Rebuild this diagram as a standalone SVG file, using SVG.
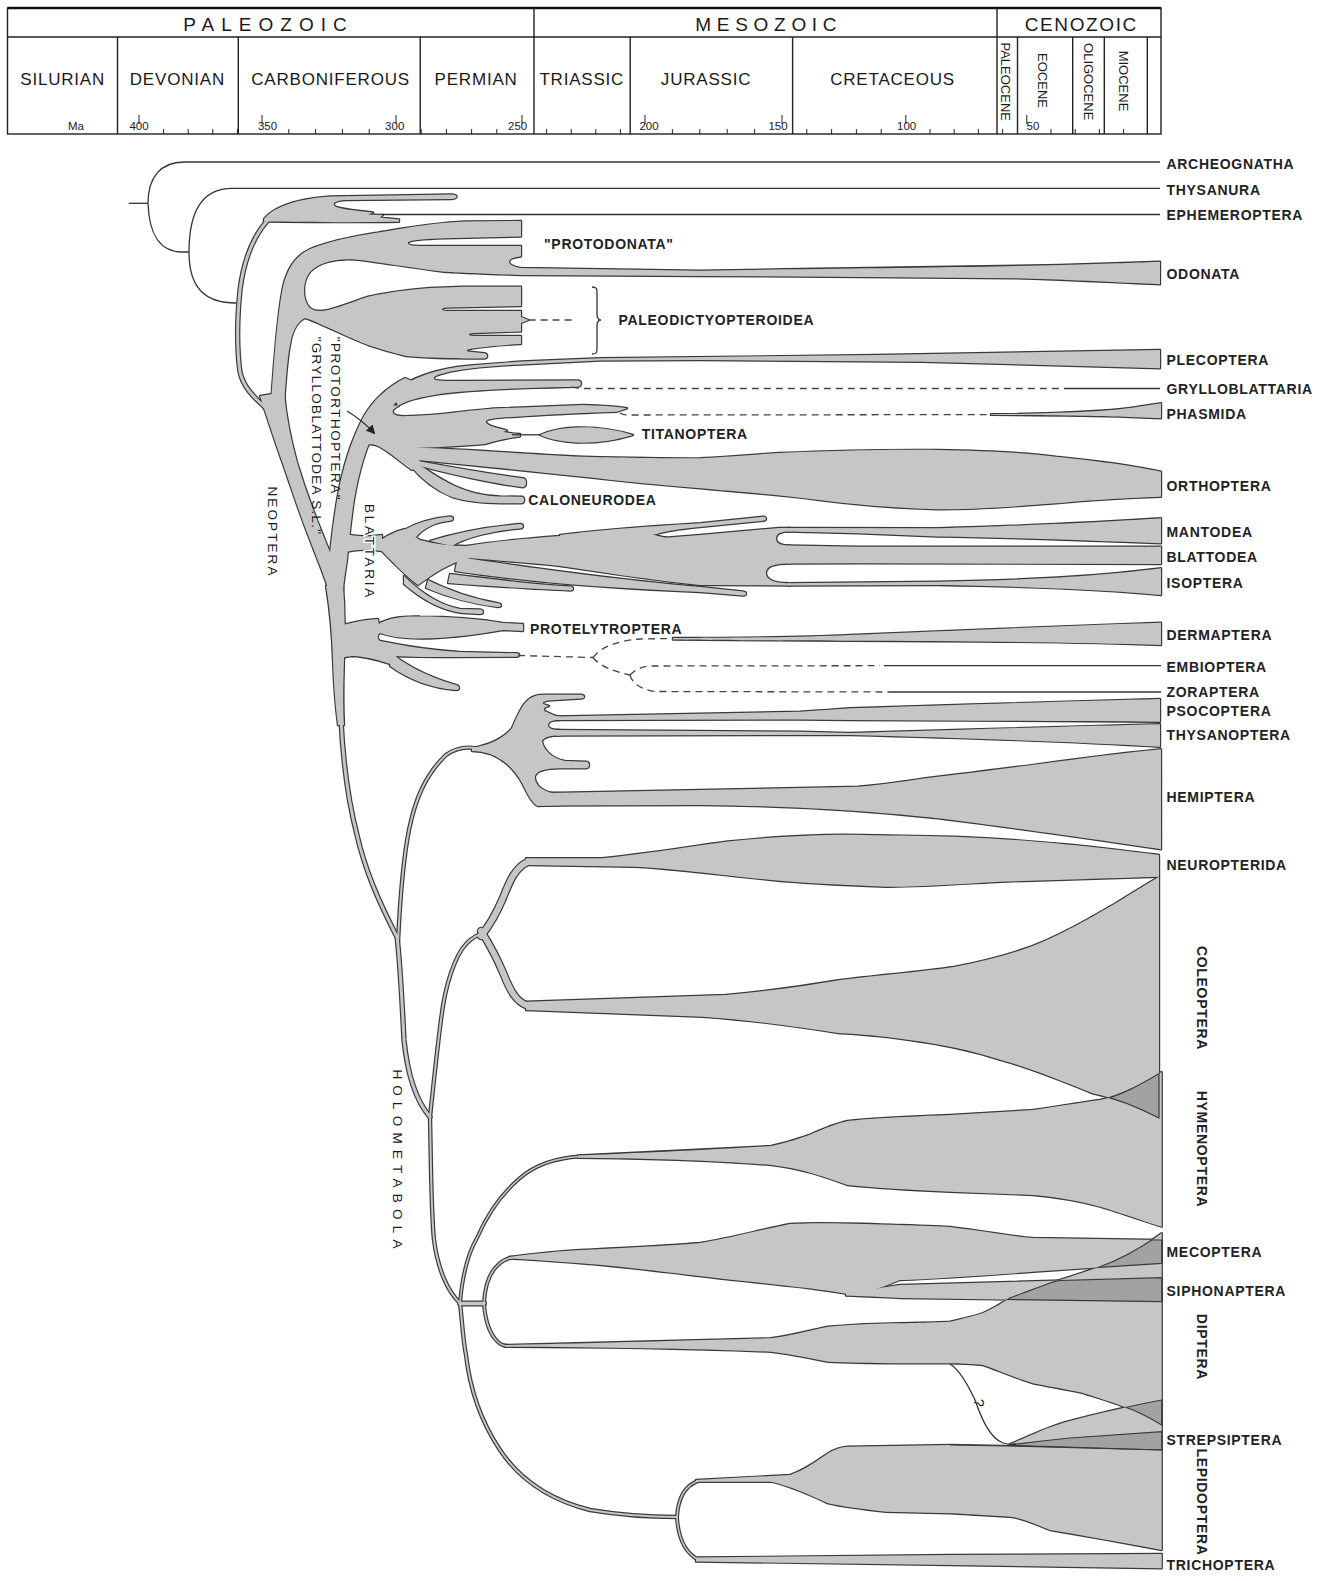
<svg xmlns="http://www.w3.org/2000/svg" xmlns:xlink="http://www.w3.org/1999/xlink" width="1321" height="1581" viewBox="0 0 1321 1581">
<style>
text{font-family:"Liberation Sans",Arial,sans-serif;fill:#1a1a1a}
.era{font-size:19px}
.per{font-size:17px;letter-spacing:0.8px}
.ep{font-size:13px}
.num{font-size:11.5px}
.lab{font-size:14px;letter-spacing:0.7px;font-weight:bold;fill:#222}
.grp{font-size:13.5px}
.grid{stroke:#222;stroke-width:1.4;fill:none}
.tick{stroke:#222;stroke-width:1;fill:none}
.ln{fill:none;stroke:#333;stroke-width:1.3}
.dash{fill:none;stroke:#444;stroke-width:1.3;stroke-dasharray:7 5}
.edge{fill:none;stroke:#3a3a3a;stroke-width:1.2}
.dark{fill:#a2a2a2}
</style>
<defs>
<marker id="arr" viewBox="0 0 10 10" refX="8" refY="5" markerWidth="7" markerHeight="7" orient="auto"><path d="M0,0 L10,5 L0,10 Z" fill="#222"/></marker>
<path id="eph" d="M264,219 C272,209 292,199 330,196.5 L452,194.5 C458,195 458,198.5 452,199 L346,200 C334,200.5 331,204 336,207 C345,210 362,211 373,212.5 L368,214.5 L383,215 L380,217.5 L399,219.5 L399,221.8 C350,222.5 300,222 264,221.5 Z"/>
<path id="neob" d="M260,396 C268,420 276,445 284,467 C292,490 300,515 310,540 C316,556 322,570 328,588 L343,590 C337,568 329,550 321,530 C311,505 303,482 297,462 C291,440 286,415 284,392 Z"/>
<path id="palaeo" d="M271,404 C274,360 277,320 282,292 C286,268 297,255 310,249 C330,241 350,237 375,233 C400,229 430,223 465,221.5 L521,221 L521,236.5 L445,238.3 C425,239 410,240 408,242.5 C407,245 412,246 420,246 L521,246 L521,256.5 C513,257 509,259.5 509,262 C509,264.5 514,267 521,268 L700,270.7 L784,269.3 C900,268 1000,266.5 1060,265 C1110,263.5 1140,262.5 1160,261.7 L1160,284.3 C1120,282.5 1050,279 1014,278.3 L830,276.7 L700,276 L521,275 C480,273.5 455,272.5 444,271.7 C410,268 380,262 355,259.5 C335,258 318,263 310,272 C302,282 302,300 310,308 C320,316 340,306 368,296.7 C390,292 405,290 430,288 L463,286.7 L521,286.7 L521,306 L447,307.5 C440,308 440,310.5 447,311 L521,311 L521,317 L528.6,320 L521,323 L521,331.5 L474,333 C467,333.5 467,335.5 474,336 L521,336 L521,344 C500,345 482,347 472,348.5 C465,349.5 465,351.5 472,352 L484.6,353.3 C488,354 488,358 484.6,358.5 C450,358.5 420,357.5 406,356 C390,352 380,349 368,345 C350,338 340,333 329.6,328.3 C320,324 312,320 305,318 C297,322 292,332 290,345 C287,360 286,380 284,404 Z"/>
<path id="pbb" d="M327,588 C329,560 332,530 337,500 C342,470 351,440 364,416 C374,399 389,386 405,378 L422,385 C402,395 387,409 377,425 C367,445 359,470 354,500 C351,520 349,540 347,560 C345,575 343,585 343,592 Z"/>
<path id="plec" d="M392,392 C412,377 440,368 470,365.5 L521,361.5 L600,358.3 L876,355 L1160,350 L1160,368.3 L922,361.7 L700,360 L600,360.5 L521,364.5 C490,366 460,369 445,373 C436,375 433,377 434,379 C436,381 445,381 460,381 L578,380.5 C582,381 582,386 578,386.8 L567,387 C520,388 470,390 440,394 C420,397 405,401 398,406 Z"/>
<path id="pob" d="M366,445 L370,412 C378,406 390,404 399,406 C393,408.5 392,411 393,413 C395,416 400,416.5 410,416 C425,415.5 440,414.5 455,412.5 C470,410.5 482,409.5 493,408.5 L583,405 C600,405.5 615,406 627,408.3 L617,411.7 C580,413 545,414.5 517,416.7 C500,417.5 488,418.5 486,421 C485,424 491,426 498,428 L507,430.5 L503,432 L513,433.5 L520,434 L520,436.5 C508,438 495,441 485,444 C465,446 440,447 418,447.8 L420,466 L412,470 C400,462 390,452 378,446 C374,444 370,444 366,445 Z"/>
<path id="tit" d="M540,435 C555,428 590,422 633,435 C590,448 555,442 540,435 Z"/>
<path id="orth" d="M415,447.5 C480,450 540,455 583,456.7 C640,458 680,458.5 700,458.3 C740,456 760,454 779,453 C850,450 900,449.5 937.6,450 C990,451 1030,453 1056,456.7 C1100,461 1140,467 1161,471.7 L1161,496.7 C1120,498 1080,501 1056,503.3 C1010,507 970,509.5 937.6,509.3 C890,508 850,504 818.8,500 C770,494 730,491 700,488.3 C660,485 620,481 583,476.7 C520,470 470,465 418,460 Z"/>
<path id="cfa" d="M418,461 C450,467 490,474 523,478.3 C527,479 527,486.5 523,487.3 C490,483 455,475 420,466 Z"/>
<path id="cfb" d="M410,465 C420,478 435,490 452,497 C465,501 480,503 500,503.3 L521.7,503.3 C525,503 525,496.5 521.7,496.7 L500,496.5 C485,496 470,493 455,486 C440,479 430,472 420,465 Z"/>
<path id="bstem" d="M343,533 C355,537 368,537 382,535 L382,551 C368,549 355,549 343,553 Z"/>
<path id="bbody" d="M376,543 C386,536 396,531 405,529 C410,532 414,536 420,540 C435,544 450,546 466,546 C490,542 520,539 560,536 C600,533 630,532 650,533 C655,535 660,537.5 668,537.5 L700,535 L779,528 L790,528 L790,531.5 C780,531.5 776,534 776,538.5 C776,543 780,545.5 790,545.5 L790,563.5 C772,563.5 766,567 766,573 C766,579 772,583 790,583.3 L790,585.5 L700,585 C650,580 600,572 560,566 C520,562 490,560 470,558 C450,562 432,575 418,585 C405,575 390,560 376,545 Z"/>
<path id="bf1" d="M402,531 C416,523 432,518 450,516.5 C454,516.5 454,520.5 450,520.8 C436,522 424,528 416,537 Z"/>
<path id="bf2" d="M430,541 C455,533 485,527 520,524 C524,524 524,528.5 520,528.5 C490,531 465,538 452,546 Z"/>
<path id="bf3" d="M560,535 C600,530 640,527 700,523.3 L763,516.7 C767,516.4 767,520.4 763,520.8 L700,527 C680,529 665,531 657,534 C645,536 600,537 560,538 Z"/>
<path id="bfa" d="M404,576 C418,590 436,604 460,609 L480,609.5 C484,610 484,614 480,614 L462,613 C440,610 420,598 404,584 Z"/>
<path id="bfb" d="M428,580 C448,590 470,598 498,603.3 C502,604 502,607 498,607 C472,604 450,598 426,588 Z"/>
<path id="bfc" d="M450,574 C490,579 530,584 570,586.5 C574,587 574,590.5 570,590.5 C530,589 490,586 448,583 Z"/>
<path id="bfd" d="M458,557 C520,566 600,578 700,587 L743,591.5 C747,592 747,595.5 743,595.5 L700,592 C600,588 520,581 455,571 Z"/>
<path id="mant" d="M788,528 L937.6,528.3 C1050,525 1120,521 1161,518.3 L1161,543.3 C1080,540 1000,537.5 937.6,536.5 L858,533.3 L788,531.5 Z"/>
<path id="blat" d="M788,545.5 L858,546.7 L1161,546.7 L1161,564 L858,563.3 L788,563.5 Z"/>
<path id="isop" d="M788,583.3 L937.6,581.7 C1040,580 1110,575 1161,568.3 L1161,595 C1100,589 1000,586 937.6,585 L788,585.5 Z"/>
<path id="bbm" d="M326,586 C330,610 332,630 333,660 C334,690 336,710 338,725 L344,725 C343,705 343,690 344,660 C345,635 345,610 343,586 Z"/>
<path id="prn" d="M334,628 C345,624 360,620 378,619 L380,633 C377,635 377,639 380,641 L392,645 L395,655 C400,662 405,668 412,672 C395,665 375,658 355,656 C346,656 340,658 336,662 Z"/>
<path id="prs" d="M374,627 C385,618 400,616 420,616.5 C450,616.5 480,619 503,623 L523,624 L523,631 L503,630 C480,634 450,638.5 420,638.5 C400,638.5 388,636 380,633 Z"/>
<path id="prm" d="M380,641 C405,646 430,650 460,652 L516.7,653.3 C520,653.5 520,656.5 516.7,656.8 L460,657 C430,657 410,657 394,656 Z"/>
<path id="prl" d="M392,654 C405,664 425,676 456,685 C460,686 460,690 456,690 C430,688 408,679 390,666 Z"/>
<path id="derm" d="M673,638 C700,638 800,637.5 850,635 C950,631 1080,625 1161,622.7 L1161,645 C1080,642 950,641 850,640.7 C800,640.5 700,640 673,639.5 Z"/>
<path id="phas" d="M991,414.3 C1050,413.5 1100,412 1130,408 L1161,403.3 L1161,418.3 L1130,417 C1100,416 1050,415.2 991,414.9 Z"/>
<path id="parb" d="M472,748 C488,745 502,740 512,728 C518,715 523,700 535,696 C538,695 541,694.8 545,694.8 L581,694.8 C585,695 585,698.5 581,698.5 L548,700.5 C542,701.5 541,704 546,705 L549,706 C543,707.5 542,710.5 547,712 C550,713.5 553,715 558,716.5 L560,716.5 L560,720 C552,720 548,722 548,725 C548,728 552,730 560,730 L560,735.5 C550,735.5 544,737 542,741 C543,748 550,758 565,761 L586,761.7 C590,762 590,768 586,768.3 L560,768.3 C545,768.5 537,771 535,776 C534,783 540,790 552,793 L560,793 L560,805.3 L537.6,806 C532,803 528,795 522,783 C515,770 505,760 490,754 C484,752 478,751 472,751 Z"/>
<path id="psoc" d="M556,716.5 L800,711.7 C820,710.5 835,709.5 850,708.3 C950,705 1080,701 1160,699 L1160,721.7 C1050,721 950,720.5 850,720 L800,719.5 L556,720 Z"/>
<path id="thys" d="M556,730 L800,731.7 L850,733 C950,730 1080,726 1160,724.3 L1160,746.7 C1080,742 950,737.5 850,735 L800,735 L556,735.5 Z"/>
<path id="hem" d="M548,793 L700,790 L858,786.7 C890,784 910,780 937.6,776.7 C1000,770 1100,755 1161,749.3 L1161,849.3 C1100,840 1000,826 937.6,818.3 C880,812 800,806 700,805 L540,805.5 Z"/>
<path id="neu" d="M526,858.3 L601.5,858.3 C660,852 700,845 725.4,841.7 C780,836 830,834 863,835 C900,835.5 930,836 955,836.7 C1040,840 1110,849 1159,855 L1159,876.7 C1100,878.5 1040,880.5 1001,881.7 C960,884 920,887 886,886.7 C840,885 800,883 771,880 C720,875 670,868 633.6,866.7 L526,865 Z"/>
<path id="col" d="M526,1001.7 L725.4,995 C780,990 810,985 840,980 C880,975 920,972 955,966.7 C990,960 1020,952 1046.7,940 C1080,925 1100,912 1115.6,903.3 C1135,891 1150,882 1159,876.7 L1159,1118 C1140,1108 1115,1098 1092.6,1093.3 C1060,1080 1030,1068 1001,1060 C970,1050 940,1044 909,1040 C880,1036 860,1034 840,1033.3 C800,1027 750,1020 702.5,1016.7 L526,1010 Z"/>
<path id="hym" d="M578,1155.5 C650,1152.5 720,1149 771,1146 C790,1142 800,1138 809,1135 C825,1128 838,1123 847.5,1121 C870,1118.5 890,1117.5 950,1115 L1033,1110 C1060,1106 1085,1102 1100,1100 C1120,1096 1140,1085 1161.7,1072 L1161.7,1226.7 C1140,1220 1115,1211 1100,1206.7 C1080,1201 1055,1197 1033,1195 L950,1191.7 C910,1190 875,1188 847.5,1185 C825,1177 800,1168 771,1165 C720,1161 660,1159 618,1158.3 L578,1157.8 Z"/>
<path id="mec" d="M509,1257 C540,1253 560,1251 580,1250 C640,1247 680,1245 700,1243 C730,1238 760,1230 790,1224 C820,1222 870,1224 900,1225 C930,1226 945,1226.5 950,1227 C990,1232 1010,1236 1033,1238 L1161.7,1240 L1161.7,1263.3 L1033,1271.7 C980,1276 930,1279 900,1280 C890,1284 880,1288 870,1291 L848,1294 C830,1291 820,1290 809,1288.3 C780,1285 755,1282 733,1280 C680,1274 620,1266 580,1263.3 C550,1261 525,1259 509,1258.5 Z"/>
<path id="sip" d="M846,1293 C870,1290 885,1287 900,1285 L1161.7,1277.7 L1161.7,1301.7 L900,1298 C880,1297 862,1296 846,1295.5 Z"/>
<path id="dip" d="M505,1345 C600,1343 700,1340 771,1338.3 C800,1334 815,1329 828,1326.7 C860,1324 880,1323.5 900,1323.3 C930,1322.5 945,1322 950,1321.7 C965,1318 975,1316 983,1313 C995,1308 1003,1302 1010,1298 C1025,1292 1040,1287 1050,1283 C1070,1277 1090,1270 1100,1266.7 C1125,1258 1145,1245 1161.7,1233.3 L1161.7,1425 C1150,1418 1140,1413 1133,1410 C1115,1403 1095,1397 1083,1393 C1065,1389 1045,1386 1033,1383.3 C1010,1376 995,1369 983,1365 C970,1364 960,1363.5 950,1363.3 L900,1363.3 C870,1363 845,1362.5 828,1361.7 C810,1358 790,1354 771,1351.7 C700,1349 600,1347 505,1346.8 Z"/>
<path id="stw" d="M1010,1444 C1030,1436 1045,1428 1066.7,1421.7 C1100,1413 1135,1405 1161.7,1400 L1161.7,1450 C1100,1448 1050,1446 1010,1445 Z"/>
<path id="lep" d="M696,1480 C730,1478 760,1476.5 790,1475 C805,1470 818,1460 828,1453.3 C835,1449 842,1447 847.5,1446.7 L950,1445 C1020,1446 1100,1448 1161.7,1450 L1161.7,1550 C1120,1542 1080,1535 1050,1530 C1035,1524 1022,1518 1010,1516.7 C980,1515 965,1514 950,1513.3 L886,1511.7 C860,1509 840,1506 828,1503.3 C808,1494 790,1486 771,1481.7 L696,1481.8 Z"/>
<path id="tri" d="M696,1557.5 L950,1555 L1161.7,1554 L1161.7,1568.3 L950,1565 L696,1561.5 Z"/>
<path id="b-eph" fill="none" d="M267,221 C254,236 244,258 240,290 C237,320 237,350 240,372 C243,386 252,396 268,410"/>
<path id="b-lb" fill="none" d="M341,720 C343,760 348,800 357,835 C365,870 378,900 397,937 C400,960 402,1000 404,1040 C408,1080 418,1103 430,1117"/>
<path id="b-para" fill="none" d="M398,942 C400,900 403,860 409,830 C415,800 425,775 446,755 C456,748 465,746 477,748.5"/>
<path id="b-nc" fill="none" d="M430,1117 C434,1080 437,1050 441,1020 C445,985 455,955 467,943 C472,938 477,935 483,933"/>
<path id="b-main" fill="none" d="M430,1117 C431,1160 431,1210 434,1240 C438,1270 448,1292 460,1303 C462,1320 463,1340 466,1355 C470,1390 480,1420 500,1450 C520,1480 550,1500 590,1510 C620,1515 650,1517 677,1517"/>
<path id="b-hym" fill="none" d="M460,1303 C462,1280 467,1255 477,1238 C487,1215 500,1195 520,1178 C535,1165 555,1158 580,1156.5"/>
<path id="b-conn" fill="none" d="M460,1303.5 L484,1303.5"/>
<path id="b-mec" fill="none" d="M484,1303 C485,1285 490,1272 498,1265 C503,1260 507,1258.5 512,1257.8"/>
<path id="b-dip" fill="none" d="M484,1303 C485,1320 490,1335 498,1342 C501,1345 504,1345.8 508,1346"/>
<path id="b-lep" fill="none" d="M677,1517 C678,1500 684,1486 698,1481"/>
<path id="b-tri" fill="none" d="M677,1517 C678,1535 684,1552 698,1559.5"/>
<path id="b-neu" fill="none" d="M481,936 C490,925 497,912 503,898 C510,880 515,868 528,861.7"/>
<path id="b-col" fill="none" d="M481,931 C490,945 497,958 504,975 C510,990 516,1002 528,1005.8"/>
<clipPath id="cl-hym"><use xlink:href="#hym"/></clipPath>
<clipPath id="cl-col"><use xlink:href="#col"/></clipPath>
<clipPath id="cl-dip"><use xlink:href="#dip"/></clipPath>
<clipPath id="cl-mec"><use xlink:href="#mec"/></clipPath>
<clipPath id="cl-sip"><use xlink:href="#sip"/></clipPath>
<clipPath id="cl-stw"><use xlink:href="#stw"/></clipPath>
</defs>

<rect width="1321" height="1581" fill="#fff"/>

<g id="timescale">
<rect x="7.5" y="8" width="1153.5" height="126" class="grid"/>
<line x1="7.5" y1="8" x2="1161" y2="8" stroke="#111" stroke-width="2.6"/>
<line x1="7.5" y1="37" x2="1161" y2="37" class="grid"/>
<path class="grid" d="M534,8V134 M997,8V134 M117.5,37V134 M238.3,37V134 M420.2,37V134 M630.2,37V134 M792.6,37V134 M1017.5,37V134 M1072.7,37V134 M1104.3,37V134 M1147.3,37V134"/>
<text class="era" x="268.5" y="30.5" text-anchor="middle" letter-spacing="7">PALEOZOIC</text>
<text class="era" x="768.8" y="30.5" text-anchor="middle" letter-spacing="5.7">MESOZOIC</text>
<text class="era" x="1081.3" y="30.5" text-anchor="middle" letter-spacing="1.6">CENOZOIC</text>
<text class="per" x="62.7" y="85" text-anchor="middle">SILURIAN</text>
<text class="per" x="177.4" y="85" text-anchor="middle">DEVONIAN</text>
<text class="per" x="330.6" y="85" text-anchor="middle">CARBONIFEROUS</text>
<text class="per" x="476.1" y="85" text-anchor="middle">PERMIAN</text>
<text class="per" x="581.8" y="85" text-anchor="middle">TRIASSIC</text>
<text class="per" x="706.1" y="85" text-anchor="middle">JURASSIC</text>
<text class="per" x="892.6" y="85" text-anchor="middle">CRETACEOUS</text>
<text class="ep" transform="translate(1001.2,81.7) rotate(90)" text-anchor="middle">PALEOCENE</text>
<text class="ep" transform="translate(1038.3,80.5) rotate(90)" text-anchor="middle">EOCENE</text>
<text class="ep" transform="translate(1083.5,81.7) rotate(90)" text-anchor="middle">OLIGOCENE</text>
<text class="ep" transform="translate(1119.3,81) rotate(90)" text-anchor="middle">MIOCENE</text>
<path class="tick" d="M139,115V124 M262,115V124 M396,115V124 M522,115V124 M645,115V124 M782,115V124 M905.8,115V124 M1026.8,115V124"/>
<path class="tick" d="M163.6,129V134 M188.2,129V134 M212.8,129V134 M237.4,129V134 M288.8,129V134 M315.6,129V134 M342.4,129V134 M369.2,129V134 M421.2,129V134 M446.4,129V134 M471.6,129V134 M496.8,129V134 M546.6,129V134 M571.2,129V134 M595.8,129V134 M620.4,129V134 M672.4,129V134 M699.8,129V134 M727.2,129V134 M754.6,129V134 M806.8,129V134 M831.6,129V134 M856.4,129V134 M881.2,129V134 M930,129V134 M954.2,129V134 M978.4,129V134 M1002.6,129V134 M1051,129V134 M1075.2,129V134 M1099.4,129V134 M1123.6,129V134"/>
<text class="num" x="84" y="129.5" text-anchor="end">Ma</text>
<text class="num" x="139" y="129.5" text-anchor="middle">400</text>
<text class="num" x="267.5" y="129.5" text-anchor="middle">350</text>
<text class="num" x="394.7" y="129.5" text-anchor="middle">300</text>
<text class="num" x="517.6" y="129.5" text-anchor="middle">250</text>
<text class="num" x="649" y="129.5" text-anchor="middle">200</text>
<text class="num" x="778" y="129.5" text-anchor="middle">150</text>
<text class="num" x="906.6" y="129.5" text-anchor="middle">100</text>
<text class="num" x="1033" y="129.5" text-anchor="middle">50</text>
</g>

<g id="branch-outlines" fill="#3a3a3a" stroke="#3a3a3a" stroke-width="2.4" stroke-linejoin="round" stroke-linecap="round">
<use xlink:href="#eph"/><use xlink:href="#neob"/><use xlink:href="#palaeo"/><use xlink:href="#pbb"/><use xlink:href="#plec"/><use xlink:href="#pob"/><use xlink:href="#tit"/><use xlink:href="#orth"/><use xlink:href="#cfa"/><use xlink:href="#cfb"/>
<use xlink:href="#bstem"/><use xlink:href="#bbody"/><use xlink:href="#bf1"/><use xlink:href="#bf2"/><use xlink:href="#bf3"/><use xlink:href="#bfa"/><use xlink:href="#bfb"/><use xlink:href="#bfc"/><use xlink:href="#bfd"/><use xlink:href="#mant"/><use xlink:href="#blat"/><use xlink:href="#isop"/>
<use xlink:href="#bbm"/><use xlink:href="#prn"/><use xlink:href="#prs"/><use xlink:href="#prm"/><use xlink:href="#prl"/><use xlink:href="#derm"/><use xlink:href="#phas"/>
<use xlink:href="#parb"/><use xlink:href="#psoc"/><use xlink:href="#thys"/><use xlink:href="#hem"/>
<use xlink:href="#neu"/><use xlink:href="#col"/><use xlink:href="#hym"/><use xlink:href="#mec"/><use xlink:href="#sip"/><use xlink:href="#dip"/><use xlink:href="#stw"/><use xlink:href="#lep"/><use xlink:href="#tri"/>
<use xlink:href="#b-eph" stroke-width="5.4"/><use xlink:href="#b-lb" stroke-width="5.4"/><use xlink:href="#b-para" stroke-width="4.4"/><use xlink:href="#b-nc" stroke-width="4.4"/><use xlink:href="#b-main" stroke-width="4.4"/><use xlink:href="#b-hym" stroke-width="4"/><use xlink:href="#b-conn" stroke-width="6"/><use xlink:href="#b-mec" stroke-width="4"/><use xlink:href="#b-dip" stroke-width="4"/><use xlink:href="#b-lep" stroke-width="4"/><use xlink:href="#b-tri" stroke-width="4"/><use xlink:href="#b-neu" stroke-width="8.4"/><use xlink:href="#b-col" stroke-width="8.4"/>
</g>

<g id="branch-fills" fill="#c6c6c6" stroke="#c6c6c6" stroke-width="0" stroke-linejoin="round" stroke-linecap="round">
<use xlink:href="#eph"/><use xlink:href="#neob"/><use xlink:href="#palaeo"/><use xlink:href="#pbb"/><use xlink:href="#plec"/><use xlink:href="#pob"/><use xlink:href="#tit"/><use xlink:href="#orth"/><use xlink:href="#cfa"/><use xlink:href="#cfb"/>
<use xlink:href="#bstem"/><use xlink:href="#bbody"/><use xlink:href="#bf1"/><use xlink:href="#bf2"/><use xlink:href="#bf3"/><use xlink:href="#bfa"/><use xlink:href="#bfb"/><use xlink:href="#bfc"/><use xlink:href="#bfd"/><use xlink:href="#mant"/><use xlink:href="#blat"/><use xlink:href="#isop"/>
<use xlink:href="#bbm"/><use xlink:href="#prn"/><use xlink:href="#prs"/><use xlink:href="#prm"/><use xlink:href="#prl"/><use xlink:href="#derm"/><use xlink:href="#phas"/>
<use xlink:href="#parb"/><use xlink:href="#psoc"/><use xlink:href="#thys"/><use xlink:href="#hem"/>
<use xlink:href="#neu"/><use xlink:href="#col"/><use xlink:href="#hym"/><use xlink:href="#mec"/><use xlink:href="#sip"/><use xlink:href="#dip"/><use xlink:href="#stw"/><use xlink:href="#lep"/><use xlink:href="#tri"/>
<use xlink:href="#b-eph" stroke-width="3"/><use xlink:href="#b-lb" stroke-width="3"/><use xlink:href="#b-para" stroke-width="2"/><use xlink:href="#b-nc" stroke-width="2"/><use xlink:href="#b-main" stroke-width="2"/><use xlink:href="#b-hym" stroke-width="1.6"/><use xlink:href="#b-conn" stroke-width="3.6"/><use xlink:href="#b-mec" stroke-width="1.6"/><use xlink:href="#b-dip" stroke-width="1.6"/><use xlink:href="#b-lep" stroke-width="1.6"/><use xlink:href="#b-tri" stroke-width="1.6"/><use xlink:href="#b-neu" stroke-width="6"/><use xlink:href="#b-col" stroke-width="6"/>
</g>

<g id="overlaps">
<g clip-path="url(#cl-hym)"><use xlink:href="#col" class="dark"/><use xlink:href="#col" class="edge"/></g>
<g clip-path="url(#cl-col)"><use xlink:href="#hym" class="edge"/></g>
<g clip-path="url(#cl-dip)"><use xlink:href="#mec" class="dark"/><use xlink:href="#sip" class="dark"/><use xlink:href="#stw" class="dark"/><use xlink:href="#mec" class="edge"/><use xlink:href="#sip" class="edge"/><use xlink:href="#stw" class="edge"/></g>
<g clip-path="url(#cl-mec)"><use xlink:href="#dip" class="edge"/></g>
<g clip-path="url(#cl-sip)"><use xlink:href="#dip" class="edge"/></g>
<g clip-path="url(#cl-stw)"><use xlink:href="#dip" class="edge"/></g>
<path d="M1013,1444.5 C1040,1441 1050,1440 1070,1438 C1110,1435 1140,1433 1161.7,1431.7 L1161.7,1450 C1110,1448 1060,1446.5 1013,1445.5 Z" fill="#a2a2a2" stroke="#3a3a3a" stroke-width="1.2"/>
<path class="edge" d="M950,1445 C1020,1446 1100,1448 1161.7,1450"/>
</g>

<g id="connectors">
<path class="ln" d="M128.7,203.3 H148"/>
<path class="ln" d="M148,203.3 C148,178 160,162 184,162 H1160"/>
<path class="ln" d="M148,203.3 C149,234 160,252 182,252 H189"/>
<path class="ln" d="M189,252 C189,207 205,188.3 232,188.3 H1160"/>
<path class="ln" d="M189,252 C189,288 205,303 236,303"/>
<path class="ln" d="M382,214.5 H1160"/>
<path class="dash" d="M528.6,320 H574" stroke-dasharray="6 4"/>
<path class="ln" d="M592,287 C597,287 597,289 597,293 L597,314 C597,318 598,320 601,320 C598,320 597,322 597,326 L597,348 C597,352 597,354 592,354"/>
<path class="dash" d="M572,387 C575,388 578,388.5 583,388.5 L1060,388.5"/>
<path class="ln" d="M1064,388.5 H1160"/>
<path class="dash" d="M620,413 C623,415 626,415 631,415 L991,414.6"/>
<path class="ln" d="M512,434.8 H541"/>
<path class="ln" d="M347,411 C357,417 365,423 374,433" marker-end="url(#arr)"/>
<path class="dash" d="M518,655.5 L593,657.5"/>
<path class="dash" d="M593,657.5 C600,648 615,641 640,639 L673,638.5"/>
<path class="dash" d="M593,657.5 C600,666 612,671 630,675"/>
<path class="dash" d="M630,675 C635,670 640,667 650,666 L880,665.7"/>
<path class="dash" d="M630,675 C632,683 640,689 655,691.5 L890,692"/>
<path class="ln" d="M884,665.7 H1161" stroke-width="1.6"/>
<path class="ln" d="M890,692 H1161" stroke-width="1"/>
<path class="ln" d="M950,1364 C960,1370 968,1385 975,1400 C982,1420 990,1438 1003,1443 C1008,1444.5 1012,1444.5 1016,1444"/>
</g>

<g id="labels">
<g id="taxon-archeognatha"><text class="lab" x="1166.5" y="169.2">ARCHEOGNATHA</text></g>
<g id="taxon-thysanura"><text class="lab" x="1166.5" y="194.5">THYSANURA</text></g>
<g id="taxon-ephemeroptera"><text class="lab" x="1166.5" y="220.2">EPHEMEROPTERA</text></g>
<g id="taxon-protodonata"><text class="lab" x="544" y="248.5">&quot;PROTODONATA&quot;</text></g>
<g id="taxon-odonata"><text class="lab" x="1166.5" y="278.5">ODONATA</text></g>
<g id="taxon-paleodictyopteroidea"><text class="lab" x="618.5" y="325.2">PALEODICTYOPTEROIDEA</text></g>
<g id="taxon-plecoptera"><text class="lab" x="1166.5" y="365.2">PLECOPTERA</text></g>
<g id="taxon-grylloblattaria"><text class="lab" x="1166.5" y="394.2">GRYLLOBLATTARIA</text></g>
<g id="taxon-phasmida"><text class="lab" x="1166.5" y="418.5">PHASMIDA</text></g>
<g id="taxon-titanoptera"><text class="lab" x="641.7" y="438.5">TITANOPTERA</text></g>
<g id="taxon-orthoptera"><text class="lab" x="1166.5" y="491.2">ORTHOPTERA</text></g>
<g id="taxon-caloneurodea"><text class="lab" x="528.3" y="505.2">CALONEURODEA</text></g>
<g id="taxon-mantodea"><text class="lab" x="1166.5" y="536.9">MANTODEA</text></g>
<g id="taxon-blattodea"><text class="lab" x="1166.5" y="561.9">BLATTODEA</text></g>
<g id="taxon-isoptera"><text class="lab" x="1166.5" y="587.9">ISOPTERA</text></g>
<g id="taxon-protelytroptera"><text class="lab" x="530" y="633.5">PROTELYTROPTERA</text></g>
<g id="taxon-dermaptera"><text class="lab" x="1166.5" y="640.2">DERMAPTERA</text></g>
<g id="taxon-embioptera"><text class="lab" x="1166.5" y="671.9">EMBIOPTERA</text></g>
<g id="taxon-zoraptera"><text class="lab" x="1166.5" y="697.2">ZORAPTERA</text></g>
<g id="taxon-psocoptera"><text class="lab" x="1166.5" y="715.9">PSOCOPTERA</text></g>
<g id="taxon-thysanoptera"><text class="lab" x="1166.5" y="740.2">THYSANOPTERA</text></g>
<g id="taxon-hemiptera"><text class="lab" x="1166.5" y="801.9">HEMIPTERA</text></g>
<g id="taxon-neuropterida"><text class="lab" x="1166.5" y="870.2">NEUROPTERIDA</text></g>
<g id="taxon-coleoptera"><text class="lab" transform="translate(1196.8,998) rotate(90)" text-anchor="middle">COLEOPTERA</text></g>
<g id="taxon-hymenoptera"><text class="lab" transform="translate(1196.8,1149) rotate(90)" text-anchor="middle">HYMENOPTERA</text></g>
<g id="taxon-mecoptera"><text class="lab" x="1166.5" y="1256.9">MECOPTERA</text></g>
<g id="taxon-siphonaptera"><text class="lab" x="1166.5" y="1295.9">SIPHONAPTERA</text></g>
<g id="taxon-diptera"><text class="lab" transform="translate(1196.8,1347) rotate(90)" text-anchor="middle">DIPTERA</text></g>
<g id="taxon-strepsiptera"><text class="lab" x="1166.5" y="1445.2">STREPSIPTERA</text></g>
<g id="taxon-lepidoptera"><text class="lab" transform="translate(1196.8,1502) rotate(90)" text-anchor="middle">LEPIDOPTERA</text></g>
<g id="taxon-trichoptera"><text class="lab" x="1166.5" y="1570.2">TRICHOPTERA</text></g>
<g id="clade-neoptera"><text class="grp" transform="translate(267.5,532) rotate(90)" text-anchor="middle" letter-spacing="2.1">NEOPTERA</text></g>
<g id="clade-protorthoptera"><text class="grp" transform="translate(330.5,336.7) rotate(90)" letter-spacing="1.5">&quot;PROTORTHOPTERA&quot;</text><text class="grp" transform="translate(312.3,336.7) rotate(90)" letter-spacing="1.3">&quot;GRYLLOBLATTODEA S.L.&quot;</text></g>
<g id="clade-blattaria"><text class="grp" transform="translate(365,552) rotate(90)" text-anchor="middle" letter-spacing="2.7" stroke="#fff" stroke-width="3" paint-order="stroke">BLATTARIA</text></g>
<g id="clade-holometabola"><text class="grp" transform="translate(393.3,1162) rotate(90)" text-anchor="middle" letter-spacing="6.2">HOLOMETABOLA</text></g>
<g id="mark-query"><text transform="translate(973.5,1403) rotate(90)" text-anchor="middle" font-size="14">?</text></g>
</g>
</svg>
